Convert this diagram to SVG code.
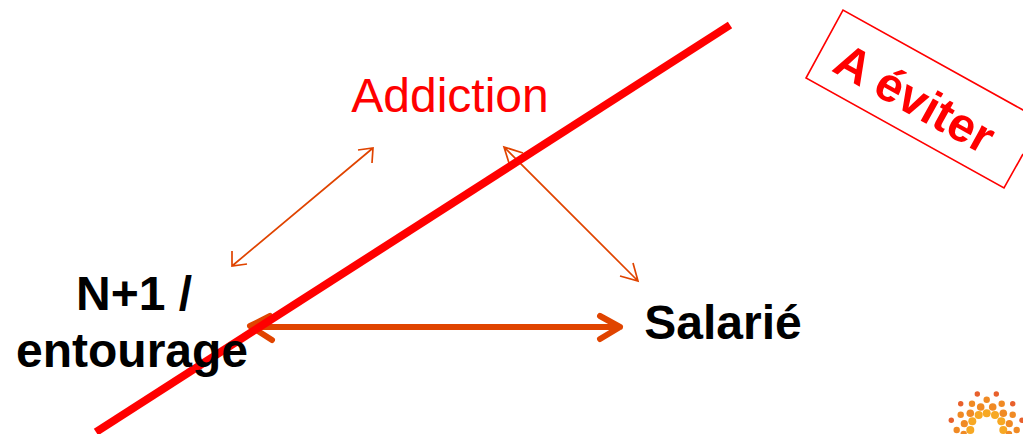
<svg xmlns="http://www.w3.org/2000/svg" width="1023" height="434" viewBox="0 0 1023 434">
<style>
.lbl{font-family:"Liberation Sans",Arial,sans-serif;font-weight:bold;fill:#000;font-size:48px;text-anchor:middle}
.thin{stroke:#e04400;stroke-width:1.7;fill:none}
.thick{stroke:#e04400;stroke-width:6;fill:none;stroke-linecap:round;stroke-linejoin:round}
.d1{fill:#e8602c}.d2{fill:#f08a24}.d3{fill:#f7a823}
</style>
<rect width="1023" height="434" fill="#fff"/>
<g id="connectors">
<path class="thin" d="M232 266L373 148M232 251L232 266L247 264M358 150L373 148L372 163"/>
<path class="thin" d="M504 147L638 281M509 163L504 147L523 153M633 263L638 281L620 276"/>
<path class="thick" d="M252 327H620M600 316L620 327L600 339M270 316L250 326L272 340"/>
<path id="slash" d="M96 432L730 25" stroke="#f00" stroke-width="8" fill="none"/>
</g>
<g id="addiction"><text x="450" y="112" font-family="'Liberation Sans',Arial,sans-serif" font-size="48" fill="#f00" text-anchor="middle">Addiction</text></g>
<g id="n1"><text class="lbl" x="134" y="310">N+1 /</text><text class="lbl" x="132" y="367">entourage</text></g>
<g id="salarie"><text class="lbl" x="723" y="339">Salarié</text></g>
<g id="eviter">
<path d="M1041 120L843 10L806 78L1004 188L1023 154" fill="none" stroke="#f00" stroke-width="1.6"/>
<text transform="translate(915 98) rotate(29)" x="0" y="17" font-family="'Liberation Sans',Arial,sans-serif" font-weight="bold" font-size="48" fill="#f00" text-anchor="middle">A éviter</text>
</g>
<g id="logo">
<circle class="d1" cx="977.3" cy="394" r="2.7"/><circle class="d1" cx="996.3" cy="394" r="2.7"/>
<circle class="d2" cx="986.7" cy="399.7" r="3.2"/>
<circle class="d1" cx="960.7" cy="403.7" r="2.7"/><circle class="d2" cx="972" cy="403.7" r="3.2"/><circle class="d2" cx="1001.7" cy="403.7" r="3.2"/><circle class="d1" cx="1012.7" cy="403.7" r="2.7"/>
<circle class="d2" cx="980.7" cy="407" r="3.8"/><circle class="d2" cx="992.7" cy="407" r="3.8"/>
<circle class="d2" cx="970.3" cy="413.3" r="3.8"/><circle class="d3" cx="978.7" cy="415" r="4"/><circle class="d3" cx="986.7" cy="413.3" r="4"/><circle class="d3" cx="995" cy="415" r="4"/><circle class="d2" cx="1003.3" cy="413.3" r="3.8"/>
<circle class="d2" cx="960.7" cy="414.7" r="3.2"/><circle class="d2" cx="1012.7" cy="414.7" r="3.2"/>
<circle class="d1" cx="951.3" cy="420.3" r="2.7"/><circle class="d1" cx="1022" cy="420.3" r="2.7"/>
<circle class="d2" cx="964.3" cy="423.7" r="3.6"/><circle class="d3" cx="972.3" cy="421.3" r="4"/><circle class="d3" cx="1001.3" cy="421.3" r="4"/><circle class="d2" cx="1009.3" cy="423.7" r="3.6"/>
<circle class="d2" cx="956.7" cy="430" r="3.2"/><circle class="d2" cx="1016.7" cy="430" r="3.2"/><circle class="d3" cx="970.3" cy="430" r="4"/><circle class="d3" cx="1003.3" cy="430" r="4"/>
<circle class="d2" cx="963.7" cy="434" r="3.2"/><circle class="d2" cx="1009" cy="434" r="3.2"/>
</g>
</svg>
